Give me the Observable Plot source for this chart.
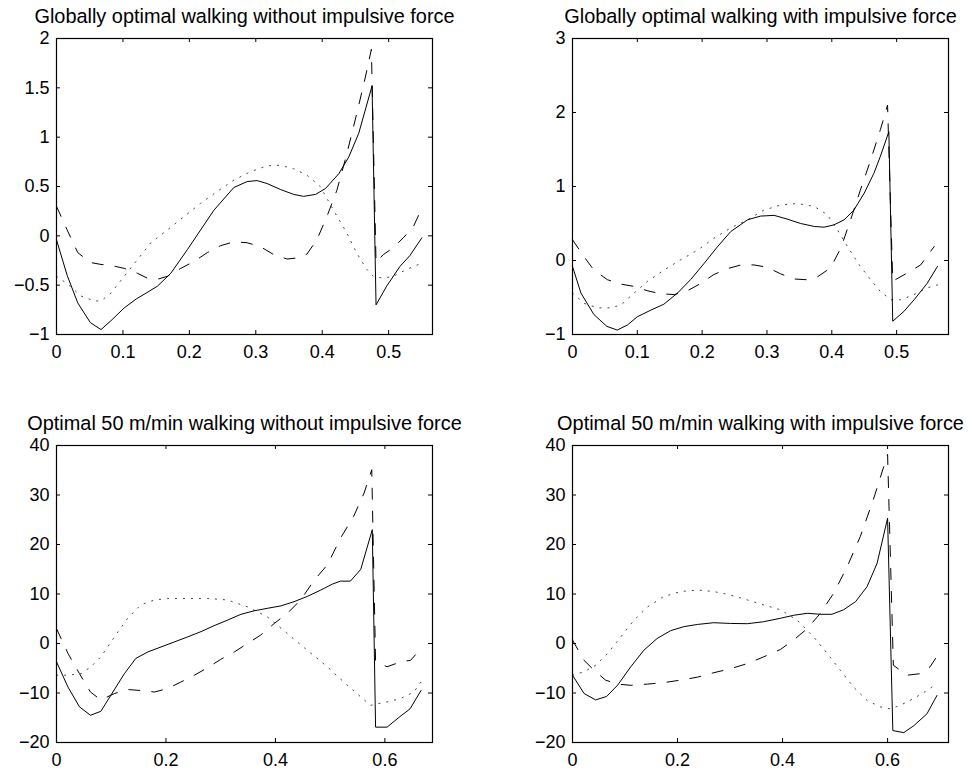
<!DOCTYPE html>
<html>
<head>
<meta charset="utf-8">
<script src="https://cdn.jsdelivr.net/npm/d3@7"></script>
<script src="https://cdn.jsdelivr.net/npm/@observablehq/plot@0.6"></script>
<style>
  html, body { margin: 0; padding: 0; background: #fff; }
  #root { position: relative; width: 969px; height: 772px; overflow: hidden; }
  #root svg { position: absolute; }
</style>
</head>
<body>
<div id="root"></div>
<script>
// ---------- titles ----------
const titles = [
  "Globally optimal walking without impulsive force",
  "Globally optimal walking with impulsive force",
  "Optimal 50 m/min walking without impulsive force",
  "Optimal 50 m/min walking with impulsive force"
];

// ---------- tick values ----------
const tlXTicks = [0, 0.1, 0.2, 0.3, 0.4, 0.5];
const tlYTicks = [-1, -0.5, 0, 0.5, 1, 1.5, 2];
const trXTicks = [0, 0.1, 0.2, 0.3, 0.4, 0.5];
const trYTicks = [-1, 0, 1, 2, 3];
const blXTicks = [0, 0.2, 0.4, 0.6];
const blYTicks = [-20, -10, 0, 10, 20, 30, 40];
const brXTicks = [0, 0.2, 0.4, 0.6];
const brYTicks = [-20, -10, 0, 10, 20, 30, 40];

// ---------- axis domains ----------
const tlXDomain = [0, 0.566], tlYDomain = [-1, 2];
const trXDomain = [0, 0.580], trYDomain = [-1, 3];
const blXDomain = [0, 0.687], blYDomain = [-20, 40];
const brXDomain = [0, 0.716], brYDomain = [-20, 40];

// ---------- top-left series [t, value] ----------
const tlSolid = [[0,-0.04],[0.016,-0.40],[0.032,-0.68],[0.051,-0.88],[0.067,-0.95],[0.082,-0.86],[0.102,-0.73],[0.12,-0.64],[0.135,-0.58],[0.152,-0.51],[0.172,-0.38],[0.197,-0.14],[0.217,0.06],[0.237,0.26],[0.267,0.49],[0.287,0.55],[0.302,0.56],[0.317,0.53],[0.337,0.47],[0.357,0.42],[0.372,0.40],[0.39,0.42],[0.405,0.48],[0.425,0.63],[0.44,0.80],[0.455,1.04],[0.475,1.52],[0.481,-0.70],[0.497,-0.51],[0.517,-0.31],[0.532,-0.20],[0.55,-0.02]];
const tlDashed = [[0,0.30],[0.016,0.06],[0.032,-0.17],[0.051,-0.27],[0.067,-0.29],[0.082,-0.30],[0.102,-0.33],[0.122,-0.38],[0.137,-0.43],[0.152,-0.44],[0.167,-0.41],[0.187,-0.33],[0.207,-0.26],[0.227,-0.17],[0.247,-0.10],[0.267,-0.06],[0.287,-0.07],[0.307,-0.11],[0.327,-0.19],[0.347,-0.235],[0.362,-0.225],[0.377,-0.185],[0.392,-0.04],[0.407,0.195],[0.422,0.46],[0.437,0.83],[0.452,1.24],[0.465,1.61],[0.474,1.89],[0.481,-0.27],[0.492,-0.19],[0.507,-0.12],[0.522,-0.02],[0.537,0.09],[0.55,0.28]];
const tlDotted = [[0,-0.41],[0.017,-0.49],[0.037,-0.61],[0.057,-0.66],[0.067,-0.66],[0.082,-0.58],[0.102,-0.41],[0.122,-0.24],[0.142,-0.07],[0.167,0.06],[0.192,0.195],[0.217,0.33],[0.242,0.45],[0.267,0.565],[0.292,0.65],[0.317,0.71],[0.337,0.715],[0.357,0.68],[0.377,0.615],[0.397,0.50],[0.417,0.26],[0.437,0.03],[0.452,-0.175],[0.467,-0.34],[0.477,-0.41],[0.492,-0.43],[0.507,-0.41],[0.527,-0.34],[0.545,-0.29]];

// ---------- top-right series ----------
const trSolid = [[0,-0.08],[0.013,-0.44],[0.033,-0.73],[0.053,-0.89],[0.069,-0.94],[0.085,-0.87],[0.10,-0.76],[0.121,-0.67],[0.141,-0.59],[0.162,-0.44],[0.182,-0.26],[0.203,-0.04],[0.224,0.19],[0.244,0.39],[0.27,0.55],[0.29,0.60],[0.311,0.61],[0.331,0.56],[0.352,0.50],[0.373,0.46],[0.388,0.45],[0.403,0.48],[0.419,0.55],[0.434,0.68],[0.45,0.91],[0.465,1.18],[0.475,1.41],[0.488,1.74],[0.494,-0.82],[0.511,-0.69],[0.527,-0.53],[0.547,-0.31],[0.563,-0.08]];
const trDashed = [[0,0.28],[0.018,0.05],[0.033,-0.13],[0.054,-0.26],[0.075,-0.32],[0.095,-0.35],[0.116,-0.41],[0.136,-0.45],[0.157,-0.46],[0.177,-0.41],[0.198,-0.31],[0.218,-0.19],[0.239,-0.11],[0.26,-0.06],[0.28,-0.06],[0.30,-0.09],[0.321,-0.18],[0.342,-0.25],[0.362,-0.26],[0.378,-0.22],[0.398,-0.10],[0.414,0.17],[0.429,0.55],[0.444,0.95],[0.46,1.36],[0.475,1.77],[0.486,2.10],[0.494,-0.28],[0.516,-0.17],[0.537,-0.06],[0.558,0.19]];
const trDotted = [[0,-0.44],[0.018,-0.58],[0.039,-0.64],[0.059,-0.64],[0.075,-0.60],[0.095,-0.44],[0.116,-0.28],[0.141,-0.13],[0.167,0.01],[0.193,0.14],[0.218,0.30],[0.244,0.44],[0.27,0.55],[0.295,0.68],[0.321,0.75],[0.347,0.77],[0.373,0.73],[0.393,0.62],[0.409,0.41],[0.424,0.19],[0.444,-0.08],[0.46,-0.26],[0.475,-0.42],[0.491,-0.53],[0.506,-0.53],[0.527,-0.46],[0.547,-0.37],[0.563,-0.33]];

// ---------- bottom-left series ----------
const blSolid = [[0,-3.7],[0.021,-8.8],[0.042,-12.8],[0.062,-14.5],[0.081,-13.7],[0.103,-9.8],[0.124,-6.1],[0.145,-3.0],[0.167,-1.7],[0.191,-0.7],[0.215,0.3],[0.24,1.35],[0.264,2.4],[0.288,3.6],[0.312,4.7],[0.337,5.9],[0.361,6.6],[0.385,7.1],[0.41,7.6],[0.434,8.45],[0.458,9.5],[0.483,10.8],[0.504,12.0],[0.519,12.6],[0.537,12.6],[0.556,15.0],[0.577,23.0],[0.583,-16.9],[0.604,-16.9],[0.626,-14.9],[0.646,-13.2],[0.666,-9.5]];
const blDashed = [[0,3.0],[0.021,-2.0],[0.042,-6.1],[0.062,-9.8],[0.081,-11.4],[0.106,-10.1],[0.13,-9.3],[0.154,-9.5],[0.179,-9.8],[0.203,-9.1],[0.227,-7.8],[0.252,-6.4],[0.276,-4.9],[0.30,-3.2],[0.325,-1.7],[0.349,0],[0.373,1.7],[0.398,4.05],[0.422,6.1],[0.446,8.8],[0.471,12.8],[0.495,15.9],[0.519,21.3],[0.543,25.7],[0.562,30.4],[0.576,35.1],[0.583,-3.7],[0.604,-4.7],[0.629,-3.7],[0.647,-3.4],[0.666,-1.0]];
const blDotted = [[0,-6.4],[0.021,-6.4],[0.045,-6.1],[0.063,-4.7],[0.081,-2.7],[0.106,1.35],[0.13,5.1],[0.154,7.8],[0.179,8.8],[0.203,9.1],[0.24,9.1],[0.276,9.1],[0.312,8.8],[0.349,7.4],[0.385,5.4],[0.422,2.0],[0.458,-1.35],[0.495,-4.7],[0.525,-7.8],[0.556,-10.8],[0.574,-12.5],[0.586,-12.2],[0.604,-11.8],[0.629,-11.1],[0.653,-9.8],[0.666,-7.8]];

// ---------- bottom-right series ----------
const brSolid = [[0,-6.4],[0.022,-10.1],[0.044,-11.4],[0.065,-10.7],[0.086,-8.4],[0.111,-4.7],[0.136,-1.35],[0.161,1.0],[0.187,2.6],[0.212,3.4],[0.238,3.85],[0.269,4.2],[0.301,4.05],[0.333,4.0],[0.364,4.4],[0.396,5.1],[0.421,5.7],[0.447,6.1],[0.472,5.9],[0.494,5.9],[0.516,6.8],[0.539,8.45],[0.561,11.5],[0.58,16.2],[0.60,25.3],[0.61,-17.6],[0.631,-18.0],[0.65,-16.6],[0.675,-14.2],[0.694,-10.5]];
const brDashed = [[0,0.7],[0.022,-3.4],[0.041,-5.4],[0.063,-7.4],[0.086,-8.2],[0.111,-8.45],[0.143,-8.2],[0.174,-7.9],[0.206,-7.4],[0.238,-6.8],[0.269,-5.9],[0.301,-5.1],[0.333,-4.05],[0.364,-2.7],[0.396,-1.2],[0.421,0.7],[0.447,3.0],[0.472,6.1],[0.497,10.1],[0.523,15.5],[0.548,21.6],[0.573,29.1],[0.60,38.2],[0.611,-4.4],[0.637,-6.4],[0.662,-6.1],[0.681,-4.7],[0.694,-2.6]];
const brDotted = [[0,-6.4],[0.022,-5.7],[0.044,-4.4],[0.067,-2.0],[0.092,1.35],[0.117,4.7],[0.143,7.4],[0.174,9.5],[0.206,10.5],[0.238,10.8],[0.269,10.5],[0.301,9.8],[0.333,8.8],[0.364,7.8],[0.396,6.8],[0.428,4.7],[0.459,1.35],[0.485,-2.0],[0.51,-5.4],[0.535,-8.8],[0.561,-11.5],[0.586,-12.8],[0.605,-13.2],[0.624,-12.5],[0.65,-11.1],[0.675,-9.5],[0.694,-8.1]];

// ---------- drawing ----------
const FONT = "'Liberation Sans', Arial, Helvetica, sans-serif";
const fmt = d => (d < 0 ? "\u2212" : "") + String(Math.abs(d));
const TICK = 4;

function panel(cfg) {
  const innerW = cfg.width - cfg.ml - cfg.mr;
  const innerH = cfg.height - cfg.mt - cfg.mb;
  const xy = {x: d => d[0], y: d => d[1]};
  const svg = Plot.plot({
    width: cfg.width,
    height: cfg.height,
    marginLeft: cfg.ml, marginRight: cfg.mr, marginTop: cfg.mt, marginBottom: cfg.mb,
    style: {fontFamily: FONT, fontSize: "18px", color: "black", background: "transparent", overflow: "visible"},
    x: {domain: cfg.xDomain},
    y: {domain: cfg.yDomain},
    marks: [
      Plot.axisX({ticks: cfg.xTicks, tickFormat: fmt, tickSize: 0, tickPadding: 11, fontSize: 18, label: null, fill: "black"}),
      Plot.axisY({ticks: cfg.yTicks, tickFormat: fmt, tickSize: 0, tickPadding: 7, fontSize: 18, label: null, fill: "black"}),
      Plot.line(cfg.dotted, {...xy, stroke: "#444", strokeWidth: 1, strokeDasharray: "1.2,6.8"}),
      Plot.line(cfg.dashed, {...xy, stroke: "black", strokeWidth: 1, strokeDasharray: "11,12"}),
      Plot.line(cfg.solid, {...xy, stroke: "black", strokeWidth: 1}),
      Plot.ruleX(cfg.xTicks, {x: d => d, insetTop: innerH - TICK, stroke: "black"}),
      Plot.ruleX(cfg.xTicks, {x: d => d, insetBottom: innerH - TICK, stroke: "black"}),
      Plot.ruleY(cfg.yTicks, {y: d => d, insetRight: innerW - TICK, stroke: "black"}),
      Plot.ruleY(cfg.yTicks, {y: d => d, insetLeft: innerW - TICK, stroke: "black"}),
      Plot.frame({stroke: "black", strokeWidth: 1.2}),
      Plot.text([cfg.title], {text: d => d, frameAnchor: "top", dy: -16, fontSize: 19.9, fill: "black", lineAnchor: "bottom", fontFamily: FONT})
    ]
  });
  svg.style.left = cfg.left + "px";
  svg.style.top = cfg.top + "px";
  document.getElementById("root").appendChild(svg);
}

panel({title: titles[0], xDomain: tlXDomain, yDomain: tlYDomain, xTicks: tlXTicks, yTicks: tlYTicks,
  solid: tlSolid, dashed: tlDashed, dotted: tlDotted,
  left: 0, top: 0, width: 484, height: 386, ml: 56, mr: 52, mt: 38, mb: 52});
panel({title: titles[1], xDomain: trXDomain, yDomain: trYDomain, xTicks: trXTicks, yTicks: trYTicks,
  solid: trSolid, dashed: trDashed, dotted: trDotted,
  left: 484, top: 0, width: 485, height: 386, ml: 88, mr: 21, mt: 38, mb: 52});
panel({title: titles[2], xDomain: blXDomain, yDomain: blYDomain, xTicks: blXTicks, yTicks: blYTicks,
  solid: blSolid, dashed: blDashed, dotted: blDotted,
  left: 0, top: 386, width: 484, height: 386, ml: 56, mr: 52, mt: 59, mb: 30});
panel({title: titles[3], xDomain: brXDomain, yDomain: brYDomain, xTicks: brXTicks, yTicks: brYTicks,
  solid: brSolid, dashed: brDashed, dotted: brDotted,
  left: 484, top: 386, width: 485, height: 386, ml: 88, mr: 21, mt: 59, mb: 30});
</script>
</body>
</html>
